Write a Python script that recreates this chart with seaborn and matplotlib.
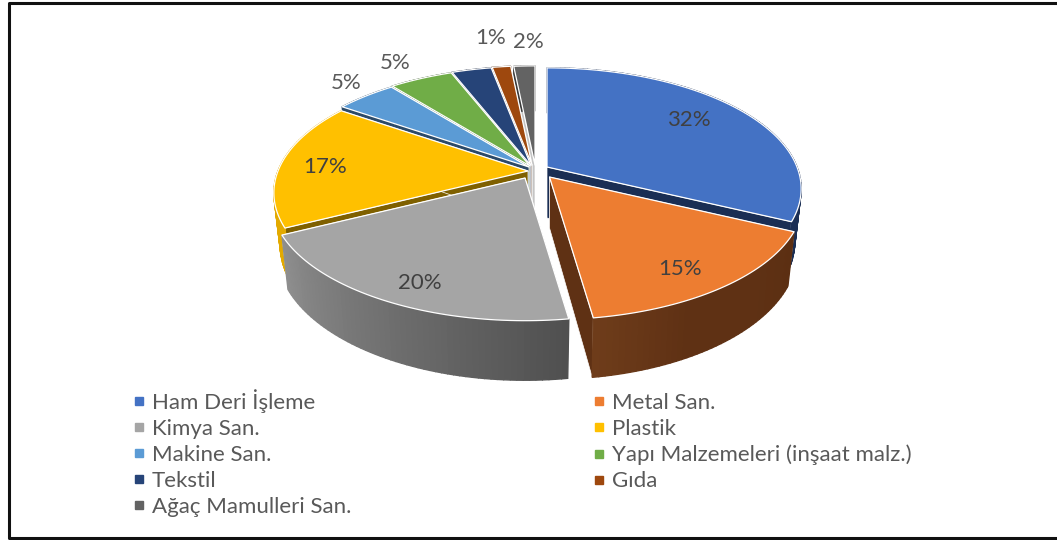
import numpy as np
import matplotlib.pyplot as plt
from matplotlib.lines import Line2D
import seaborn as sns

# pie data (labels are the rounded values, Tekstil has none)
categories = ["Ham Deri İşleme", "Metal San.", "Kimya San.", "Plastik", "Makine San.",
              "Yapı Malzemeleri (inşaat malz.)", "Tekstil", "Gıda", "Ağaç Mamulleri San."]
values = [32.1, 15.6, 19.9, 17.0, 4.6, 4.8, 3.0, 1.4, 1.6]
labels = ["32%", "15%", "20%", "17%", "5%", "5%", None, "1%", "2%"]

top_colors = ["#4472c4", "#ed7d31", "#a5a5a5", "#ffc000", "#5b9bd5",
              "#70ad47", "#264478", "#9e480e", "#636363"]
cut_colors = ["#1a2e54", "#5f3114", "#6e6e6e", "#7f6000", "#2c4a68",
              "#3a5a28", "#121f38", "#4c2208", "#c4c4c4"]
wall_colors = [("#1a2e54", "#1a2e54"), ("#5c2f12", "#5f3114", "#5f3114", "#6e3c1a"),
               ("#505050", "#8e8e8e"), ("#e3aa00", "#e3aa00"), ("#2c4a68", "#2c4a68"),
               ("#3a5a28", "#3a5a28"), ("#121f38", "#121f38"), ("#4c2208", "#4c2208"),
               ("#3a3a3a", "#3a3a3a")]

# where each exploded slice has its apex, in picture pixels
apexes = [(547, 167), (549.5, 177), (525, 178), (528, 171), (529, 167),
          (530, 166), (531, 165.5), (532, 165), (535, 165)]
label_pos = [(689, 120), (680, 269), (420, 283), (325, 167), (346, 83),
             (395, 63), None, (491, 38), (528, 42)]
draw_order = [8, 7, 6, 5, 4, 3, 0, 2, 1]

RADIUS_X = 250
RADIUS_Y = 117
PERSPECTIVE = 0.18
DEPTH = 51
BOTTOM_SX = 0.975
BOTTOM_SY = 1.06
TEXT_COLOR = "#595959"
FONT_SIZE = 16


def rim(frac):
    """Point on the tilted disc for a cumulative fraction, clockwise from 12 o'clock."""
    ang = 2 * np.pi * np.asarray(frac)
    w = 1 + PERSPECTIVE * np.cos(ang)
    return RADIUS_X * np.sin(ang) / w, -RADIUS_Y * np.cos(ang) / w


def draw_slice(ax, apex, f0, f1, top, cut, wall):
    fracs = np.linspace(f0, f1, max(int((f1 - f0) * 300), 4))
    x, y = rim(fracs)
    xt, yt = apex[0] + x, apex[1] + y
    xb, yb = apex[0] + x * BOTTOM_SX, apex[1] + DEPTH + y * BOTTOM_SY
    ax_b = (apex[0], apex[1] + DEPTH)

    # the two cut faces go first, the wall covers whichever one looks away from us
    for k in (0, -1):
        ax.fill([apex[0], xt[k], xb[k], ax_b[0]], [apex[1], yt[k], yb[k], ax_b[1]],
                facecolor=cut, edgecolor="white", lw=0.5, zorder=1)

    # outer wall in small quads so the shading can run along the rim
    shades = sns.blend_palette(list(wall), len(fracs) - 1)
    for i, shade in enumerate(shades):
        ax.fill([xt[i], xt[i + 1], xb[i + 1], xb[i]], [yt[i], yt[i + 1], yb[i + 1], yb[i]],
                color=shade, lw=1.0, zorder=1)

    ax.fill(np.r_[apex[0], xt], np.r_[apex[1], yt], facecolor=top, edgecolor="white",
            lw=0.9, joinstyle="round", zorder=1)


def main():
    sns.set_theme(style="white")
    plt.rcParams["font.family"] = ["Lato", "DejaVu Sans"]

    fig = plt.figure(figsize=(10.57, 5.40), dpi=100)
    ax = fig.add_axes([0, 0, 1, 1])
    ax.set_xlim(0, 1057)
    ax.set_ylim(540, 0)
    ax.axis("off")

    # frame: no line on the right hand side
    ax.plot([1057, 9, 9, 1057], [3, 3, 538, 538], color="#111111", lw=2.2, zorder=5)

    edges = np.r_[0, np.cumsum(values)] / np.sum(values)
    for i in draw_order:
        draw_slice(ax, apexes[i], edges[i], edges[i + 1], top_colors[i], cut_colors[i], wall_colors[i])

    for lab, pos in zip(labels, label_pos):
        if lab is not None:
            ax.text(pos[0], pos[1], lab, color="#404040" if pos[1] > 100 else TEXT_COLOR,
                    fontsize=FONT_SIZE, ha="center", va="center", zorder=3)

    handles = [Line2D([], [], marker="s", ls="none", ms=5.5, color=c, label=n)
               for c, n in zip(top_colors, categories)]
    # legend fills columns first, the picture reads row by row
    order = [0, 2, 4, 6, 8, 1, 3, 5, 7]
    ax.legend([handles[i] for i in order], [categories[i] for i in order], ncol=2,
              loc="upper left", bbox_to_anchor=(132 / 1057, 1 - 389 / 540), frameon=False,
              fontsize=FONT_SIZE, labelcolor=TEXT_COLOR, labelspacing=0.27, columnspacing=10.85,
              handlelength=0.6, handletextpad=0.3, borderpad=0, borderaxespad=0)

    fig.savefig("out.png", dpi=100)
    plt.close(fig)


if __name__ == "__main__":
    main()
